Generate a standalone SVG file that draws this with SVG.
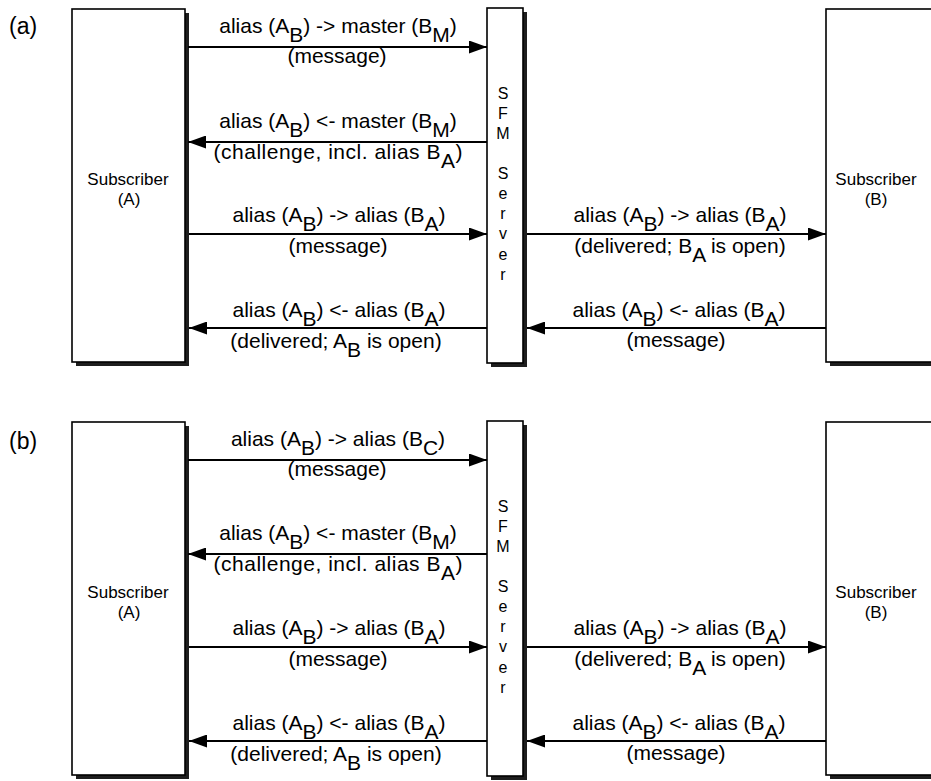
<svg xmlns="http://www.w3.org/2000/svg" width="931" height="781" viewBox="0 0 931 781">
<style>
  .bg { fill: #fff; }
  .box { fill: #fff; stroke: #000; stroke-width: 1.6; }
  .shadow { fill: #1e1e1e; }
  .t { font-family: "Liberation Sans", Arial, Helvetica, sans-serif; fill: #000; }
  .lbl { font-size: 21px; text-anchor: middle; }
  .node { font-size: 17px; text-anchor: middle; }
  .srv { font-size: 16px; text-anchor: middle; }
  .panel { font-size: 23px; }
  .conn line { stroke: #000; stroke-width: 2; }
</style>
<defs>
  <marker id="ah" markerUnits="userSpaceOnUse" markerWidth="18" markerHeight="13" refX="18" refY="6.5" orient="auto">
    <path d="M0,0 L18,6.5 L0,13 Z" fill="#000"/>
  </marker>
</defs>
<rect class="bg" x="0" y="0" width="931" height="781"/>

<g id="panel-a">
  <text class="t panel" x="9" y="34">(a)</text>
  <g id="a-subA">
    <rect class="shadow" x="76" y="13" width="113" height="353"/>
    <rect class="box" x="72" y="9" width="113" height="353"/>
    <text class="t node" x="128" y="185">Subscriber</text>
    <text class="t node" x="129" y="205">(A)</text>
  </g>
  <g id="a-server">
    <rect class="shadow" x="491" y="12" width="36" height="355"/>
    <rect class="box" x="487" y="8" width="36" height="355"/>
    <text class="t srv" x="503" y="99">S</text>
    <text class="t srv" x="503" y="119">F</text>
    <text class="t srv" x="503" y="139">M</text>
    <text class="t srv" x="503" y="179">S</text>
    <text class="t srv" x="503" y="199">e</text>
    <text class="t srv" x="503" y="219">r</text>
    <text class="t srv" x="503" y="239">v</text>
    <text class="t srv" x="503" y="260">e</text>
    <text class="t srv" x="503" y="280">r</text>
  </g>
  <g id="a-subB">
    <rect class="shadow" x="830" y="13" width="120" height="353"/>
    <rect class="box" x="826" y="9" width="120" height="353"/>
    <text class="t node" x="876" y="185">Subscriber</text>
    <text class="t node" x="876" y="205">(B)</text>
  </g>
  <g id="a-connectors" class="conn">
    <line x1="188" y1="47" x2="487" y2="47" marker-end="url(#ah)"/>
    <line x1="487" y1="142" x2="188" y2="142" marker-end="url(#ah)"/>
    <line x1="189" y1="234" x2="487" y2="234" marker-end="url(#ah)"/>
    <line x1="487" y1="328" x2="189" y2="328" marker-end="url(#ah)"/>
    <line x1="527" y1="234" x2="826" y2="234" marker-end="url(#ah)"/>
    <line x1="826" y1="328" x2="527" y2="328" marker-end="url(#ah)"/>
  </g>
  <g id="a-labels">
    <text class="t lbl" x="338" y="33">alias (A<tspan dy="9">B</tspan><tspan dy="-9">) -&gt; master (B</tspan><tspan dy="9">M</tspan><tspan dy="-9">)</tspan></text>
    <text class="t lbl" x="337" y="63">(message)</text>
    <text class="t lbl" x="338" y="128">alias (A<tspan dy="9">B</tspan><tspan dy="-9">) &lt;- master (B</tspan><tspan dy="9">M</tspan><tspan dy="-9">)</tspan></text>
    <text class="t lbl" x="338" y="159" textLength="249">(challenge, incl. alias B<tspan dy="9">A</tspan><tspan dy="-9">)</tspan></text>
    <text class="t lbl" x="339" y="222">alias (A<tspan dy="9">B</tspan><tspan dy="-9">) -&gt; alias (B</tspan><tspan dy="9">A</tspan><tspan dy="-9">)</tspan></text>
    <text class="t lbl" x="338" y="253">(message)</text>
    <text class="t lbl" x="339" y="317">alias (A<tspan dy="9">B</tspan><tspan dy="-9">) &lt;- alias (B</tspan><tspan dy="9">A</tspan><tspan dy="-9">)</tspan></text>
    <text class="t lbl" x="336" y="348">(delivered; A<tspan dy="9">B</tspan><tspan dy="-9"> is open)</tspan></text>
    <text class="t lbl" x="680" y="222">alias (A<tspan dy="9">B</tspan><tspan dy="-9">) -&gt; alias (B</tspan><tspan dy="9">A</tspan><tspan dy="-9">)</tspan></text>
    <text class="t lbl" x="680" y="253">(delivered; B<tspan dy="9">A</tspan><tspan dy="-9"> is open)</tspan></text>
    <text class="t lbl" x="679" y="317">alias (A<tspan dy="9">B</tspan><tspan dy="-9">) &lt;- alias (B</tspan><tspan dy="9">A</tspan><tspan dy="-9">)</tspan></text>
    <text class="t lbl" x="676" y="347">(message)</text>
  </g>
</g>

<g id="panel-b" transform="translate(0,413)">
  <text class="t panel" x="9" y="36">(b)</text>
  <g id="b-subA">
    <rect class="shadow" x="76" y="13" width="113" height="353"/>
    <rect class="box" x="72" y="9" width="113" height="353"/>
    <text class="t node" x="128" y="185">Subscriber</text>
    <text class="t node" x="129" y="205">(A)</text>
  </g>
  <g id="b-server">
    <rect class="shadow" x="491" y="12" width="36" height="355"/>
    <rect class="box" x="487" y="8" width="36" height="355"/>
    <text class="t srv" x="503" y="99">S</text>
    <text class="t srv" x="503" y="119">F</text>
    <text class="t srv" x="503" y="139">M</text>
    <text class="t srv" x="503" y="179">S</text>
    <text class="t srv" x="503" y="199">e</text>
    <text class="t srv" x="503" y="219">r</text>
    <text class="t srv" x="503" y="239">v</text>
    <text class="t srv" x="503" y="260">e</text>
    <text class="t srv" x="503" y="280">r</text>
  </g>
  <g id="b-subB">
    <rect class="shadow" x="830" y="13" width="120" height="353"/>
    <rect class="box" x="826" y="9" width="120" height="353"/>
    <text class="t node" x="876" y="185">Subscriber</text>
    <text class="t node" x="876" y="205">(B)</text>
  </g>
  <g id="b-connectors" class="conn">
    <line x1="188" y1="47" x2="487" y2="47" marker-end="url(#ah)"/>
    <line x1="487" y1="141" x2="188" y2="141" marker-end="url(#ah)"/>
    <line x1="189" y1="234" x2="487" y2="234" marker-end="url(#ah)"/>
    <line x1="487" y1="328" x2="189" y2="328" marker-end="url(#ah)"/>
    <line x1="527" y1="234" x2="826" y2="234" marker-end="url(#ah)"/>
    <line x1="826" y1="328" x2="527" y2="328" marker-end="url(#ah)"/>
  </g>
  <g id="b-labels">
    <text class="t lbl" x="338" y="33">alias (A<tspan dy="9">B</tspan><tspan dy="-9">) -&gt; alias (B</tspan><tspan dy="9">C</tspan><tspan dy="-9">)</tspan></text>
    <text class="t lbl" x="337" y="63">(message)</text>
    <text class="t lbl" x="338" y="127">alias (A<tspan dy="9">B</tspan><tspan dy="-9">) &lt;- master (B</tspan><tspan dy="9">M</tspan><tspan dy="-9">)</tspan></text>
    <text class="t lbl" x="338" y="158" textLength="249">(challenge, incl. alias B<tspan dy="9">A</tspan><tspan dy="-9">)</tspan></text>
    <text class="t lbl" x="339" y="222">alias (A<tspan dy="9">B</tspan><tspan dy="-9">) -&gt; alias (B</tspan><tspan dy="9">A</tspan><tspan dy="-9">)</tspan></text>
    <text class="t lbl" x="338" y="253">(message)</text>
    <text class="t lbl" x="339" y="317">alias (A<tspan dy="9">B</tspan><tspan dy="-9">) &lt;- alias (B</tspan><tspan dy="9">A</tspan><tspan dy="-9">)</tspan></text>
    <text class="t lbl" x="336" y="348">(delivered; A<tspan dy="9">B</tspan><tspan dy="-9"> is open)</tspan></text>
    <text class="t lbl" x="680" y="222">alias (A<tspan dy="9">B</tspan><tspan dy="-9">) -&gt; alias (B</tspan><tspan dy="9">A</tspan><tspan dy="-9">)</tspan></text>
    <text class="t lbl" x="680" y="253">(delivered; B<tspan dy="9">A</tspan><tspan dy="-9"> is open)</tspan></text>
    <text class="t lbl" x="679" y="317">alias (A<tspan dy="9">B</tspan><tspan dy="-9">) &lt;- alias (B</tspan><tspan dy="9">A</tspan><tspan dy="-9">)</tspan></text>
    <text class="t lbl" x="676" y="347">(message)</text>
  </g>
</g>
</svg>
